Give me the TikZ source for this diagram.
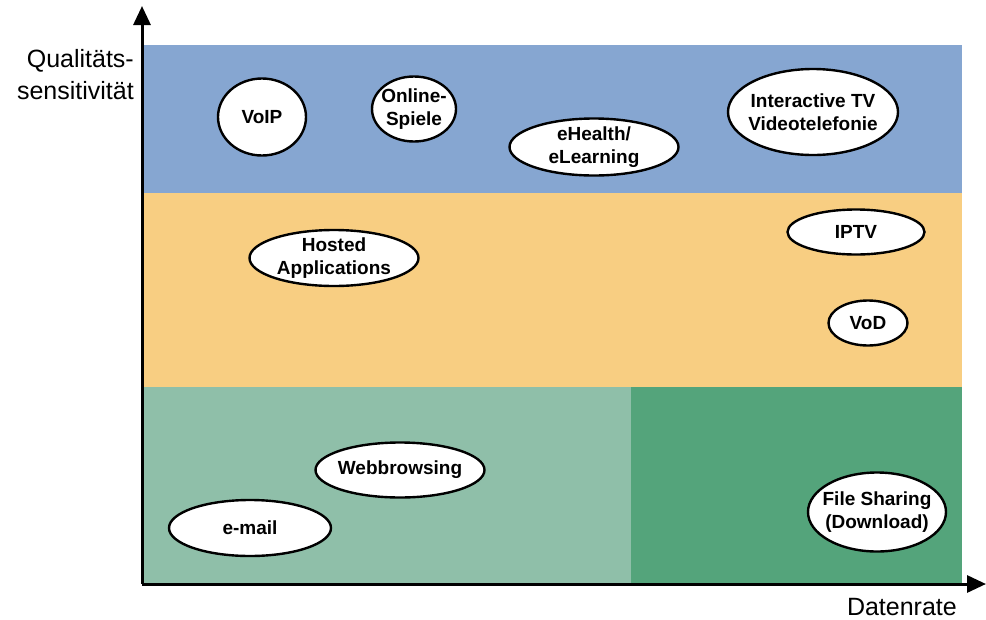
\documentclass[tikz,border=0pt]{standalone}
\usepackage{fontspec}
\setmainfont{Liberation Sans}
\usetikzlibrary{shapes.geometric,arrows.meta}
\definecolor{bandblue}{RGB}{134,166,209}
\definecolor{bandorange}{RGB}{248,206,130}
\definecolor{bandlgreen}{RGB}{143,191,169}
\definecolor{banddgreen}{RGB}{84,164,123}
\tikzset{
  app/.style={ellipse, draw=black, line width=2.4pt, fill=white, inner sep=-40pt,
    align=center, font=\fontsize{19}{23}\selectfont\bfseries},
  axisline/.style={line width=3pt, -{Triangle[length=19pt,width=17pt]}},
  axislabel/.style={font=\fontsize{25}{32}\selectfont, inner sep=0pt}
}
\begin{document}
\begin{tikzpicture}[x=1pt,y=-1pt]
\useasboundingbox (0,0) rectangle (986,619);
% bands
\fill[bandblue] (142,45) rectangle (962,193);
\fill[bandorange] (142,193) rectangle (962,387);
\fill[bandlgreen] (142,387) rectangle (631,584);
\fill[banddgreen] (631,387) rectangle (962,584);
% axes
\coordinate (o) at (142,584);
\coordinate (ytop) at (142,6);
\coordinate (xend) at (986,584);
\draw[axisline] (o) -- (ytop);
\draw[axisline] (o) -- (xend);
% axis labels
\node[axislabel, anchor=east, align=right] (ylab) at (134,75) {Qualitäts-\\sensitivität};
\node[axislabel, anchor=base east] (xlab) at (957,615) {Datenrate};
% applications
\node[app, minimum width=88pt, minimum height=77pt] (voip) at (262,117) {VoIP};
\node[app, minimum width=84pt, minimum height=65pt] (games) at (414,109) {Online-\\Spiele};
\node[app, minimum width=169pt, minimum height=57pt] (ehealth) at (594,147) {eHealth/\\eLearning};
\node[app, minimum width=170pt, minimum height=86pt] (itv) at (813,112) {Interactive TV\\Videotelefonie};
\node[app, minimum width=137pt, minimum height=45pt] (iptv) at (856,232) {IPTV};
\node[app, minimum width=79pt, minimum height=45pt] (vod) at (868,323) {VoD};
\node[app, minimum width=169pt, minimum height=56pt] (hosted) at (334,258) {Hosted\\Applications};
\node[app, minimum width=169pt, minimum height=55pt] (web) at (400,470) {Webbrowsing};
\node[app, minimum width=162pt, minimum height=56pt] (mail) at (250,528) {e-mail};
\node[app, minimum width=138pt, minimum height=79pt] (fs) at (877,512) {File Sharing\\(Download)};
\end{tikzpicture}
\end{document}
